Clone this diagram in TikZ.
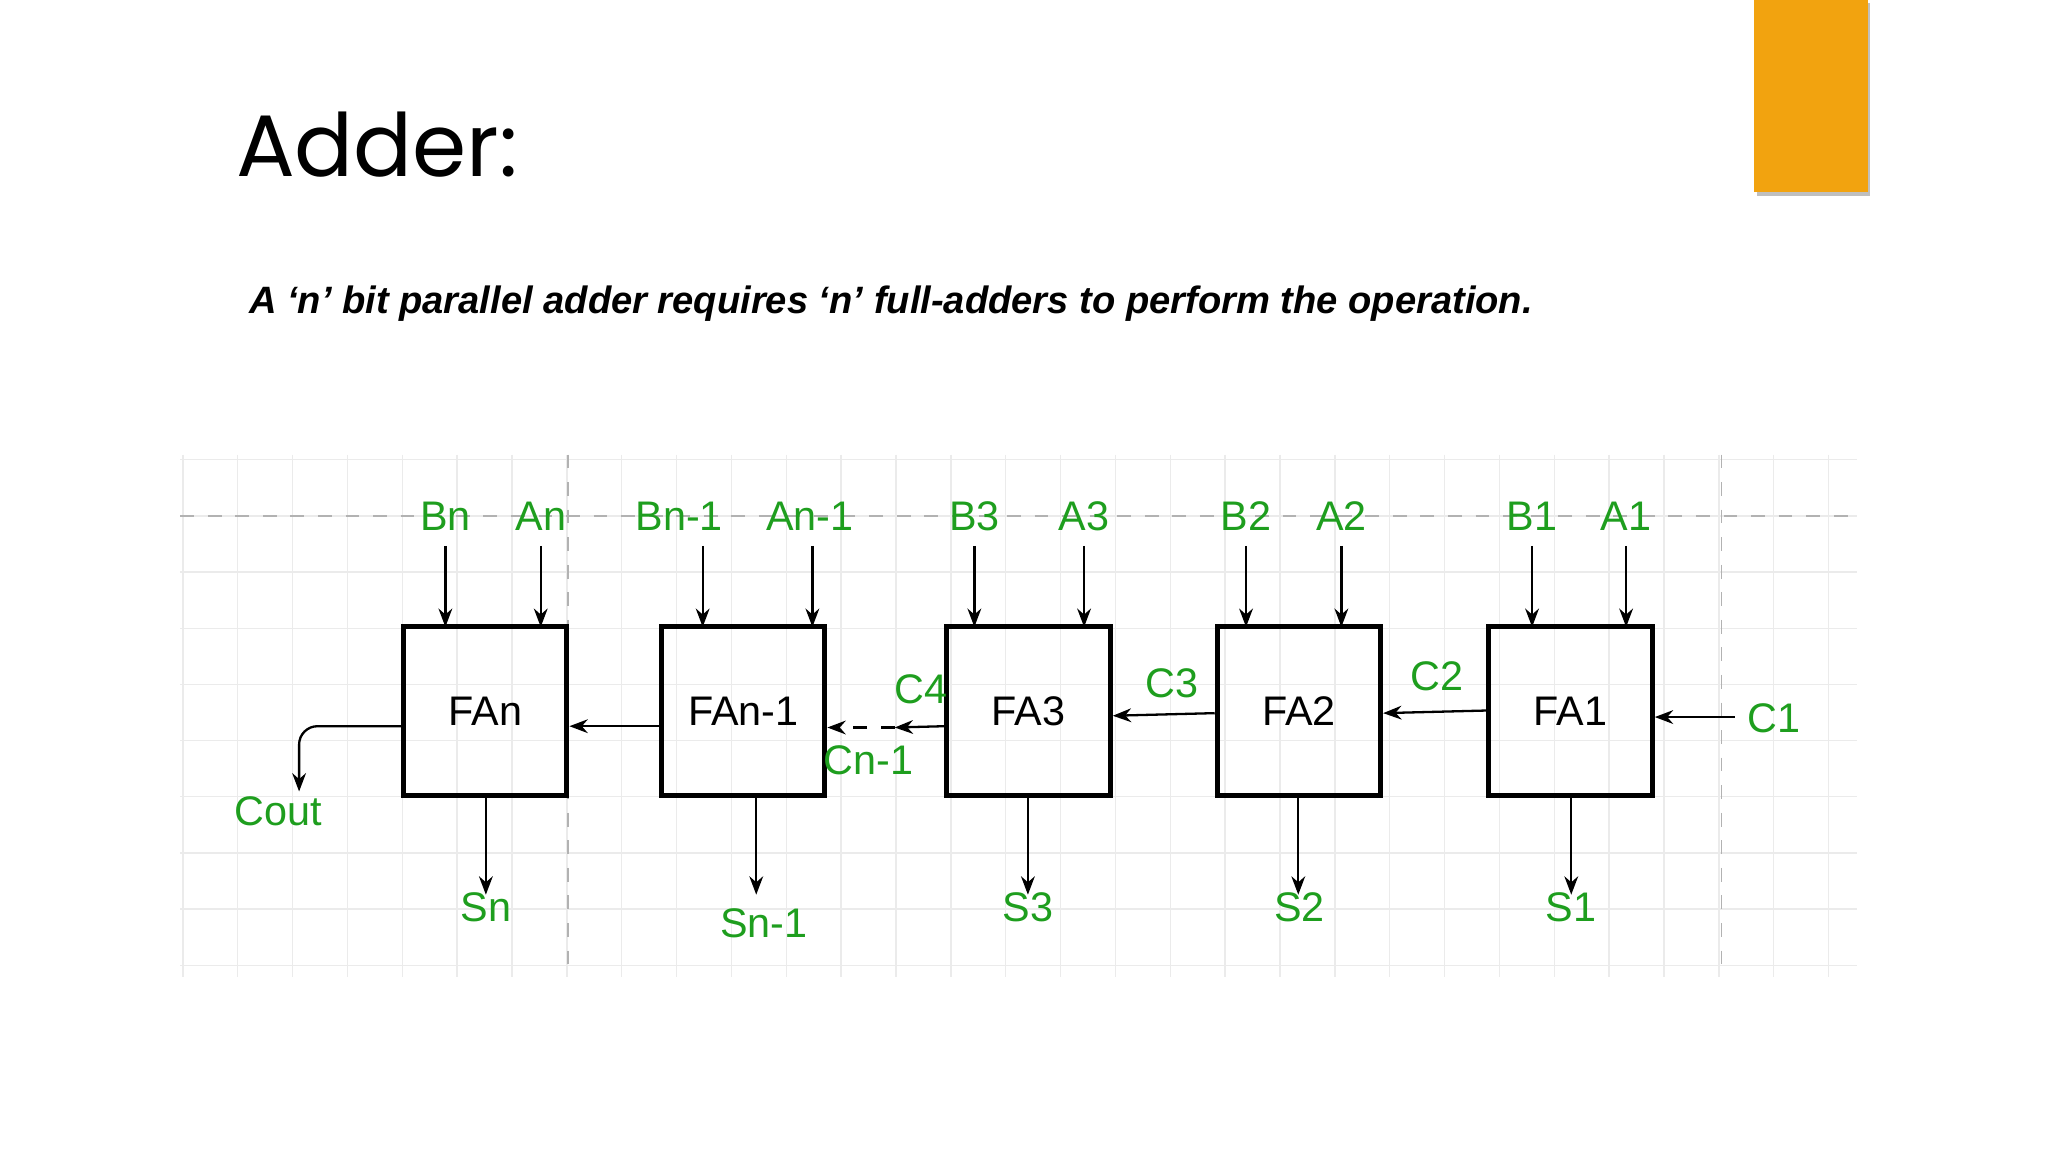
\documentclass[tikz,border=0pt]{standalone}
\usepackage{fontspec}
\setmainfont{Liberation Sans}
\newfontfamily\titlefont{Poppins}
\usetikzlibrary{arrows.meta}
\definecolor{lbl}{HTML}{1E9E1E}
\definecolor{org}{HTML}{F2A30F}
\begin{document}
\begin{tikzpicture}[x=0.01cm,y=-0.01cm,
  fa/.style={draw,line width=1.1pt,minimum width=1.25cm,minimum height=1.29cm,inner sep=0,font=\fontsize{9pt}{10pt}\selectfont},
  lab/.style={text=lbl,font=\fontsize{9pt}{10pt}\selectfont,inner sep=1pt},
  ar/.style={-{Stealth[length=4pt,width=3pt]},line width=0.5pt}]
\useasboundingbox (0,0) rectangle (1568,882);
\fill[white] (0,0) rectangle (1568,882);
% orange tab
\fill[black!25] (1345,2) rectangle (1432,150);
\fill[org] (1343,0) rectangle (1430,147);
\node[anchor=base west,inner sep=0,font=\titlefont\fontsize{19pt}{20pt}\selectfont] (title) at (180,135) {Adder:};
\node[anchor=base west,inner sep=0,font=\bfseries\itshape\fontsize{8.3pt}{9pt}\selectfont] (sub) at (190,240) {A ‘n’ bit parallel adder requires ‘n’ full-adders to perform the operation.};
% grid
\foreach \x in {140,182,224,266,308,350,392,434,476,518,560,602,644,686,728,770,812,854,896,938,980,1022,1064,1106,1148,1190,1232,1274,1316,1358,1400}
  \draw[black!8,line width=0.3pt] (\x,348) -- (\x,748);
\foreach \y in {352,395,438,481,524,567,610,653,696,739}
  \draw[black!8,line width=0.3pt] (138,\y) -- (1422,\y);
\draw[black!30,dashed,line width=0.3pt] (138,395) -- (1422,395);
\draw[black!30,dashed,line width=0.3pt] (435,348) -- (435,748);
\draw[black!30,dashed,line width=0.3pt] (1318,348) -- (1318,748);
% boxes
\node[fa] (fan) at (371.5,544.5) {FAn};
\node[fa] (fan1) at (569,544.5) {FAn-1};
\node[fa] (fa3) at (787.5,544.5) {FA3};
\node[fa] (fa2) at (994.5,544.5) {FA2};
\node[fa] (fa1) at (1202.5,544.5) {FA1};
% inputs
\foreach \n/\x/\t in {bn/341/Bn,an/414/An,bn1/520/Bn-1,an1/620/An-1,b3/746/B3,a3/830/A3,b2/954/B2,a2/1027/A2,b1/1173/B1,a1/1245/A1}{
  \node[lab] (\n) at (\x,395) {\t};
}
\foreach \n/\x in {bn/341,an/414,bn1/538,an1/622,b3/746,a3/830,b2/954,a2/1027,b1/1173,a1/1245}{
  \coordinate (\n s) at (\x,418);
  \coordinate (\n e) at (\x,480);
  \draw[ar] (\n s) -- (\n e);
}
% sums
\foreach \b/\x/\n in {fan/372/sn,fan1/579/sn1,fa3/787/s3,fa2/994/s2,fa1/1203/s1}{
  \coordinate (\n e) at (\x,685);
  \draw[ar] (\b.south -| \n e) -- (\n e);
}
\node[lab] (sn) at (372,695) {Sn};
\node[lab] (sn1) at (585,707) {Sn-1};
\node[lab] (s3) at (787,695) {S3};
\node[lab] (s2) at (995,695) {S2};
\node[lab] (s1) at (1203,695) {S1};
% carries
\node[lab] (c1) at (1358,550) {C1};
\coordinate (c1s) at (1328,549);
\draw[ar] (c1s) -- (fa1.east |- c1s);
\node[lab] (c2) at (1100,518) {C2};
\draw[ar] (fa1.west |- 0,544) -- (fa2.east |- 0,546);
\node[lab] (c3) at (897,523) {C3};
\draw[ar] (fa2.west |- 0,546) -- (fa3.east |- 0,548);
\node[lab] (c4) at (705,528) {C4};
\node[lab] (cn1) at (665,582) {Cn-1};
\coordinate (m) at (685,557);
\draw[ar] (fa3.west |- 0,556) -- (m);
\draw[ar,dashed] (m) -- (fan1.east |- 0,557);
\draw[ar] (fan1.west |- 0,556) -- (fan.east |- 0,556);
\node[lab] (cout) at (213,621) {Cout};
\coordinate (co) at (229,606);
\draw[ar,rounded corners=4pt] (fan.west |- 0,556) -- (229,556) -- (co);
\end{tikzpicture}
\end{document}
